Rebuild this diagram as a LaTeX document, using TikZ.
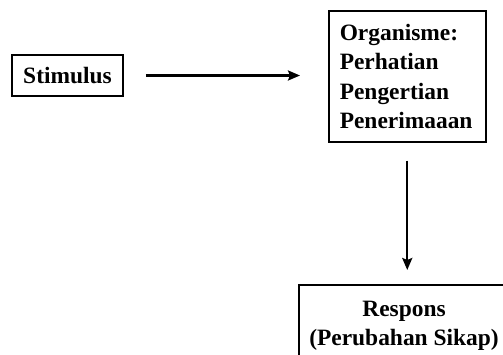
\documentclass[tikz,border=0pt]{standalone}
\usepackage{fontspec}
\setmainfont{Liberation Serif}
\usepackage{tikz}
\usetikzlibrary{arrows.meta,calc}

\begin{document}
\begin{tikzpicture}[x=0.03cm, y=-0.03cm,
    box/.style={draw, line width=0.045cm, inner sep=0pt, font=\fontsize{20}{25.2}\selectfont\bfseries},
    link/.style={-{Stealth[length=0.36cm, width=0.3cm, inset=0.06cm]}, line width=0.07cm}]
    \useasboundingbox (0,0) rectangle (503,354);
    \clip (0,0) rectangle (503,354);

    \node[box, minimum width=3.33cm, minimum height=1.23cm] (stim) at (67.5,75.5) {Stimulus};
    \node[box, anchor=north west, text width=4.05cm, align=left, inner xsep=0.33cm, inner ysep=0.39cm] (org) at (328,10) {Organisme:\\Perhatian\\Pengertian\\Penerimaaan};
    \node[box, anchor=north, align=center, minimum width=6.3cm, inner ysep=0.48cm] (resp) at (404,284) {Respons\\(Perubahan Sikap)};

    \draw[link, shorten <=0.66cm, shorten >=0.84cm] (stim.east) -- (stim.east -| org.west);
    \draw[link, shorten <=0.54cm, shorten >=0.42cm] (org.south) -- (org.south |- resp.north);
\end{tikzpicture}
\end{document}
